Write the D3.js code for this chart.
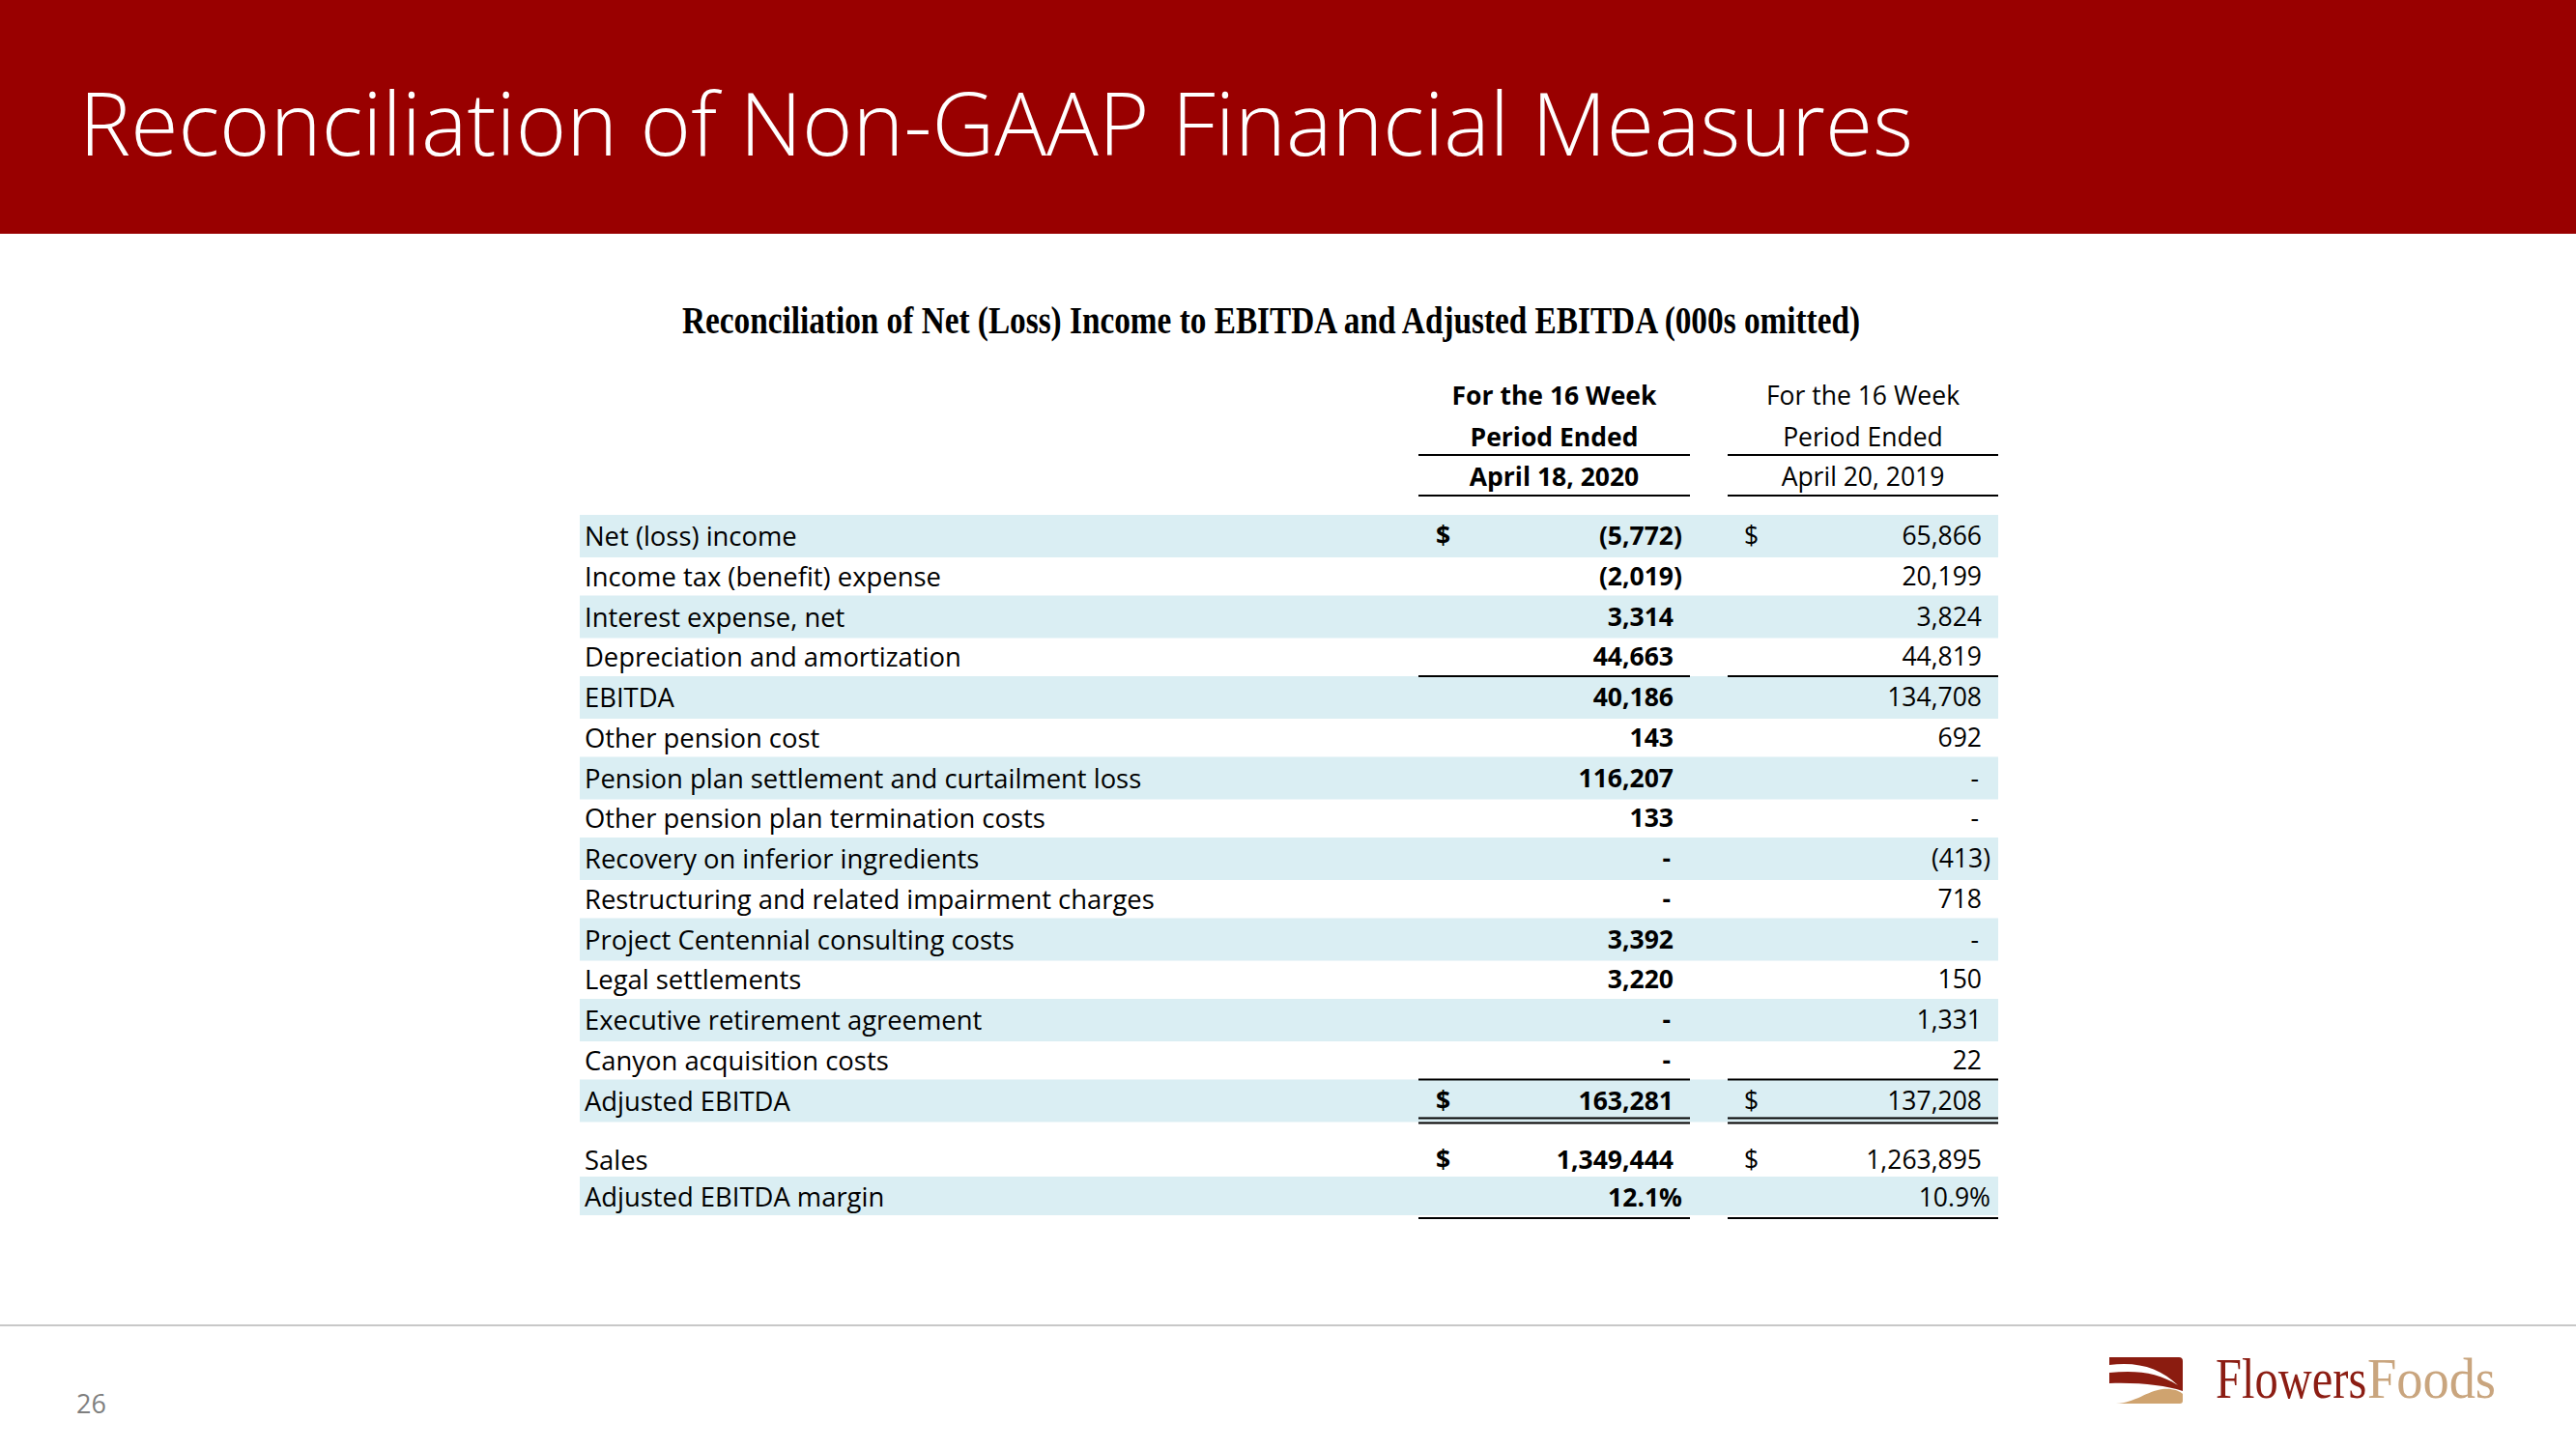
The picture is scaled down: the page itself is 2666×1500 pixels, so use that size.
<!DOCTYPE html>
<html>
<head>
<meta charset="utf-8">
<script src="https://cdn.jsdelivr.net/npm/d3@7"></script>
<style>
html,body{margin:0;padding:0;background:#fff;}
svg{display:block;}
</style>
</head>
<body>
<script>
// ---- data ----
const pageTitle = "Reconciliation of Non-GAAP Financial Measures";
const tableTitle = "Reconciliation of Net (Loss) Income to EBITDA and Adjusted EBITDA (000s omitted)";
const headerLines = ["For the 16 Week", "Period Ended"];
const periods = ["April 18, 2020", "April 20, 2019"];
const rowLabels = [
  "Net (loss) income",
  "Income tax (benefit) expense",
  "Interest expense, net",
  "Depreciation and amortization",
  "EBITDA",
  "Other pension cost",
  "Pension plan settlement and curtailment loss",
  "Other pension plan termination costs",
  "Recovery on inferior ingredients",
  "Restructuring and related impairment charges",
  "Project Centennial consulting costs",
  "Legal settlements",
  "Executive retirement agreement",
  "Canyon acquisition costs",
  "Adjusted EBITDA"
];
const values2020 = [-5772, -2019, 3314, 44663, 40186, 143, 116207, 133, null, null, 3392, 3220, null, null, 163281];
const values2019 = [65866, 20199, 3824, 44819, 134708, 692, null, null, -413, 718, null, 150, 1331, 22, 137208];
const dollarRows = ["Net (loss) income", "Adjusted EBITDA"];
const salesLabel = "Sales";
const salesValues = [1349444, 1263895];
const marginLabel = "Adjusted EBITDA margin";
const marginValues = [12.1, 10.9];
const pageNumber = "26";
const logoWords = ["Flowers", "Foods"];

// ---- layout ----
const W = 2666, H = 1500;
const svg = d3.select("body").append("svg").attr("width", W).attr("height", H);

const FONT = "'Open Sans', 'Noto Sans', sans-serif";
const band = "#DAEEF3";
const NUM_SIZE = 26.5, LABEL_SIZE = 27.4, HDR_SIZE = 26.5;

// header band
svg.append("rect").attr("x", 0).attr("y", 0).attr("width", W).attr("height", 242).attr("fill", "#990000");
svg.append("text").attr("x", 82).attr("y", 161)
  .attr("font-family", FONT).attr("font-weight", 300).attr("font-size", 90)
  .attr("fill", "#fff")
  .attr("textLength", 1898).attr("lengthAdjust", "spacingAndGlyphs")
  .text(pageTitle);

// table title
svg.append("text").attr("x", 706).attr("y", 345)
  .attr("font-family", "'Liberation Serif', 'Times New Roman', serif").attr("font-weight", "bold")
  .attr("font-size", 40).attr("fill", "#000")
  .attr("textLength", 1219).attr("lengthAdjust", "spacingAndGlyphs")
  .text(tableTitle);

// row scale
const y = d3.scaleLinear().domain([0, rowLabels.length - 1]).range([555, 1139.5]);
const colSpans = [[1468, 1749], [1788, 2068]];
const colCenter = colSpans.map(s => (s[0] + s[1]) / 2);
const numRight = [1732, 2051];
const dashRight = [1729, 2048];
const dollarX = [1486, 1805];
const tableLeft = 600, tableRight = 2068;

// bands
const g = svg.append("g");
g.selectAll("rect.band").data(rowLabels.map((d, i) => i).filter(i => i % 2 === 0))
  .join("rect").attr("class", "band")
  .attr("x", tableLeft).attr("width", tableRight - tableLeft)
  .attr("y", i => y(i) - 22).attr("height", 44).attr("fill", band);
const salesY = 1201, marginY = 1239;
g.append("rect").attr("x", tableLeft).attr("width", tableRight - tableLeft)
  .attr("y", marginY - 21).attr("height", 40).attr("fill", band);

// column headers
const hdrY = [419, 462];
[0, 1].forEach(c => {
  headerLines.forEach((ln, k) => {
    svg.append("text").attr("x", colCenter[c]).attr("y", hdrY[k]).attr("text-anchor", "middle")
      .attr("font-family", FONT).attr("font-size", HDR_SIZE).attr("font-weight", c === 0 ? "bold" : "normal")
      .attr("fill", "#000").text(ln);
  });
  svg.append("text").attr("x", colCenter[c]).attr("y", 503).attr("text-anchor", "middle")
    .attr("font-family", FONT).attr("font-size", HDR_SIZE).attr("font-weight", c === 0 ? "bold" : "normal")
    .attr("fill", "#000").text(periods[c]);
});

function hline(yy, c) {
  svg.append("line").attr("x1", colSpans[c][0]).attr("x2", colSpans[c][1])
    .attr("y1", yy).attr("y2", yy).attr("stroke", "#000").attr("stroke-width", 2);
}
[0, 1].forEach(c => {
  hline(471, c); hline(513, c);
  hline(y(4) - 22, c);
  hline(y(14) - 22, c);
  hline(y(14) + 18, c); hline(y(14) + 23, c);
  hline(1261, c);
});

// labels
svg.append("g").selectAll("text").data(rowLabels).join("text")
  .attr("x", 605).attr("y", (d, i) => y(i) + 10)
  .attr("font-family", FONT).attr("font-size", LABEL_SIZE).attr("fill", "#000").text(d => d);
svg.append("text").attr("x", 605).attr("y", salesY + 10).attr("font-family", FONT).attr("font-size", LABEL_SIZE).text(salesLabel);
svg.append("text").attr("x", 605).attr("y", marginY + 10).attr("font-family", FONT).attr("font-size", LABEL_SIZE).text(marginLabel);

const fmt = d3.format(",");
function numText(v) {
  if (v === null) return "-";
  return v < 0 ? "(" + fmt(-v) + ")" : fmt(v);
}
function drawNum(c, v, yy) {
  const txt = numText(v);
  let x = numRight[c];
  if (v === null) x = dashRight[c];
  else if (v < 0) x = numRight[c] + 9;
  svg.append("text").attr("x", x).attr("y", yy).attr("text-anchor", "end")
    .attr("font-family", FONT).attr("font-size", NUM_SIZE).attr("font-weight", c === 0 ? "bold" : "normal")
    .attr("fill", "#000").text(txt);
}
function drawDollar(c, yy) {
  svg.append("text").attr("x", dollarX[c]).attr("y", yy)
    .attr("font-family", FONT).attr("font-size", NUM_SIZE).attr("font-weight", c === 0 ? "bold" : "normal")
    .attr("fill", "#000").text("$");
}
[values2020, values2019].forEach((vals, c) => {
  vals.forEach((v, i) => drawNum(c, v, y(i) + 9));
  rowLabels.forEach((lab, i) => { if (dollarRows.includes(lab)) drawDollar(c, y(i) + 9); });
  drawNum(c, salesValues[c], salesY + 9);
  drawDollar(c, salesY + 9);
  svg.append("text").attr("x", numRight[c] + 9).attr("y", marginY + 10).attr("text-anchor", "end")
    .attr("font-family", FONT).attr("font-size", NUM_SIZE).attr("font-weight", c === 0 ? "bold" : "normal")
    .text(d3.format(".1f")(marginValues[c]) + "%");
});

// footer
svg.append("line").attr("x1", 0).attr("x2", W).attr("y1", 1372).attr("y2", 1372)
  .attr("stroke", "#c8c8c8").attr("stroke-width", 2);
svg.append("text").attr("x", 79).attr("y", 1463).attr("font-family", FONT).attr("font-size", 27)
  .attr("fill", "#7f7f7f").text(pageNumber);

// logo
const lg = svg.append("g").attr("transform", "translate(2170,1390)");
lg.append("path").attr("fill", "#8B1C10")
  .attr("d", "M13,15 L85,15 Q89,15 89,19 L89,50 C70,44 45,41 13,42 Z");
lg.append("path").attr("fill", "#fff")
  .attr("d", "M13,23 C42,19 66,26 84,44 C64,31 42,28 13,31 Z");
lg.append("path").attr("fill", "#CFA36F")
  .attr("d", "M20,63 C40,62 52,50 68,48 C78,47 86,50 89,53 L89,60 Q89,63 86,63 Z");
const lw = svg.append("g").attr("transform", "translate(2293,1447) scale(1,1.2)");
lw.append("text").attr("x", 0).attr("y", 0)
  .attr("font-family", "'Liberation Serif', serif").attr("font-size", 48.5).attr("fill", "#8C1D13")
  .text(logoWords[0]);
lw.append("text").attr("x", 157).attr("y", 0)
  .attr("font-family", "'Liberation Serif', serif").attr("font-size", 48.5).attr("fill", "#C9A57E")
  .attr("textLength", 133).attr("lengthAdjust", "spacingAndGlyphs")
  .text(logoWords[1]);
</script>
</body>
</html>
